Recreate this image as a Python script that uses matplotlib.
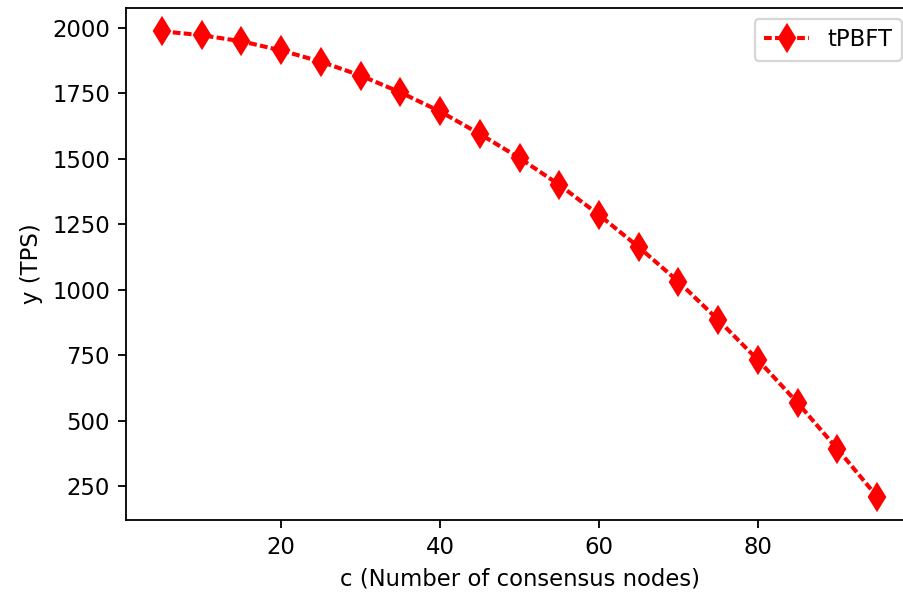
import matplotlib
matplotlib.use('Agg')
import matplotlib.pyplot as plt

# number of consensus nodes
nodes = [5, 10, 15, 20, 25, 30, 35, 40, 45, 50, 55, 60, 65, 70, 75, 80, 85, 90, 95]
# throughput (TPS)
tps = [1987, 1972, 1949, 1914, 1871, 1818, 1754, 1681, 1595, 1503,
       1401, 1286, 1163, 1031, 885, 732, 568, 392, 210]

dpi = 163.5
fig = plt.figure(figsize=(903 / dpi, 593 / dpi), dpi=dpi)
# axes run past the right edge, as in the cropped original
ax = fig.add_axes([126 / 903, 73 / 593, 787 / 903, 512 / 593])

ax.plot(nodes, tps, color='red', linestyle='--', dashes=(1.9, 0.8), lw=1.8,
        marker='d', markersize=8, label='tPBFT')
ax.set_xlabel('c (Number of consensus nodes)')
ax.set_ylabel('y (TPS)')
ax.legend(loc='upper right')

fig.savefig('out.png', dpi=dpi, facecolor='white')
